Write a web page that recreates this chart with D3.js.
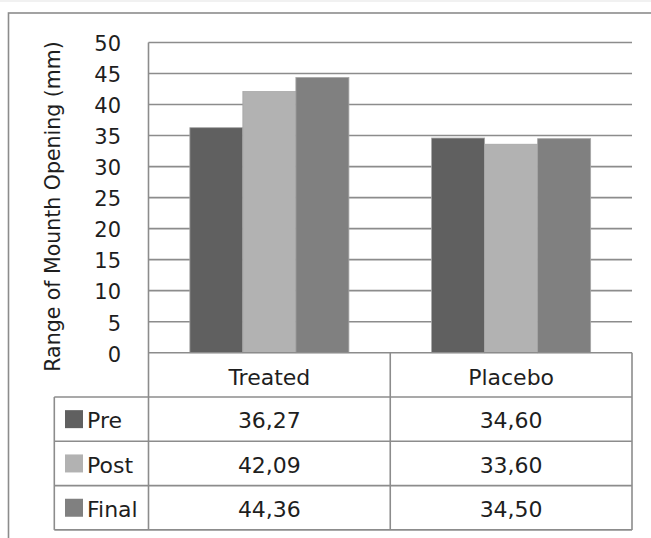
<!DOCTYPE html>
<html>
<head>
<meta charset="utf-8">
<script src="https://cdn.jsdelivr.net/npm/d3@7"></script>
<style>
  html, body { margin: 0; padding: 0; background: #fff; }
  svg { display: block; font-family: "DejaVu Sans", Verdana, sans-serif; }
</style>
</head>
<body>
<svg id="chart" width="651" height="538"></svg>
<script>
// Groups along the x axis and the three measurement series
const categories = ["Treated", "Placebo"];
const seriesNames = ["Pre", "Post", "Final"];
const preValues = [36.27, 34.60];
const postValues = [42.09, 33.60];
const finalValues = [44.36, 34.50];
const tableLabels = [["36,27", "34,60"], ["42,09", "33,60"], ["44,36", "34,50"]];
const yTicks = [0, 5, 10, 15, 20, 25, 30, 35, 40, 45, 50];
const yTitle = "Range of Mounth Opening (mm)";

const seriesValues = [preValues, postValues, finalValues];
const colors = { Pre: "#606060", Post: "#b2b2b2", Final: "#808080" };
const lineColor = "#8c8c8c";
const textColor = "#1e1e1e";

const svg = d3.select("#chart");

// Outer chart frame
svg.append("rect").attr("x", 0).attr("y", 0).attr("width", 651).attr("height", 2).attr("fill", "#f1f1f1");
svg.append("rect")
  .attr("x", 8.5).attr("y", 13).attr("width", 700).attr("height", 600)
  .attr("fill", "none").attr("stroke", lineColor).attr("stroke-width", 1.6);

const plotLeft = 148.5, plotRight = 632, plotTop = 42.5, plotBottom = 352.7;

const y = d3.scaleLinear().domain([0, 50]).range([plotBottom, plotTop]);
const x0 = d3.scaleBand().domain(categories).range([plotLeft, plotRight]);
const x1 = d3.scaleBand().domain(seriesNames).range([0, x0.bandwidth()])
  .paddingInner(0).paddingOuter(0.78);

// Horizontal gridlines
svg.append("g").selectAll("line").data(yTicks.filter(t => t > 0)).join("line")
  .attr("x1", plotLeft).attr("x2", plotRight)
  .attr("y1", d => y(d)).attr("y2", d => y(d))
  .attr("stroke", lineColor).attr("stroke-width", 1.6);

// Bars
const groups = svg.append("g").selectAll("g").data(categories).join("g")
  .attr("transform", d => `translate(${x0(d)},0)`);
groups.selectAll("rect")
  .data((c, ci) => seriesNames.map((s, si) => ({ s, v: seriesValues[si][ci] })))
  .join("rect")
  .attr("x", d => x1(d.s))
  .attr("y", d => y(d.v))
  .attr("width", x1.bandwidth())
  .attr("height", d => y(0) - y(d.v))
  .attr("fill", d => colors[d.s])
  .attr("stroke", "#a6a6a6").attr("stroke-width", 0.8);

// Y axis tick labels
svg.append("g").selectAll("text").data(yTicks).join("text")
  .attr("x", 121).attr("y", d => y(d)).attr("dy", "0.42em")
  .attr("text-anchor", "end").attr("font-size", 21).attr("fill", textColor)
  .text(d => d);

// Y axis title
svg.append("text")
  .attr("transform", "translate(60,206.5) rotate(-90)")
  .attr("text-anchor", "middle").attr("font-size", 20.5).attr("fill", textColor)
  .text(yTitle);

// Data table below the plot
const rowH = 44.3;
const rowTop = i => plotBottom + i * rowH;          // i = 0 header, 1..3 series rows
const tableBottom = rowTop(4);
const legendLeft = 54.3;
const t = svg.append("g").attr("stroke", lineColor).attr("stroke-width", 1.6);

// Axis line / top edge of the header row
t.append("line").attr("x1", plotLeft).attr("x2", plotRight).attr("y1", plotBottom).attr("y2", plotBottom);
// Row separators
t.selectAll("line.row").data([1, 2, 3, 4]).join("line").attr("class", "row")
  .attr("x1", legendLeft).attr("x2", plotRight)
  .attr("y1", d => rowTop(d)).attr("y2", d => rowTop(d));
// Vertical lines
t.append("line").attr("x1", plotLeft).attr("x2", plotLeft).attr("y1", plotTop).attr("y2", tableBottom);
t.selectAll("line.col").data(categories).join("line").attr("class", "col")
  .attr("x1", d => x0(d) + x0.bandwidth()).attr("x2", d => x0(d) + x0.bandwidth())
  .attr("y1", plotBottom).attr("y2", tableBottom);
t.append("line").attr("x1", legendLeft).attr("x2", legendLeft).attr("y1", rowTop(1)).attr("y2", tableBottom);

// Header: category names
svg.append("g").selectAll("text").data(categories).join("text")
  .attr("x", d => x0(d) + x0.bandwidth() / 2)
  .attr("y", (plotBottom + rowTop(1)) / 2).attr("dy", "0.45em")
  .attr("text-anchor", "middle").attr("font-size", 22).attr("fill", textColor)
  .text(d => d);

// Series rows: legend key, name and values
seriesNames.forEach((s, si) => {
  const cy = (rowTop(si + 1) + rowTop(si + 2)) / 2;
  svg.append("rect").attr("x", 65).attr("y", cy - 9).attr("width", 18).attr("height", 18)
    .attr("fill", colors[s]);
  svg.append("text").attr("x", 87).attr("y", cy).attr("dy", "0.42em")
    .attr("font-size", 22).attr("fill", textColor).text(s);
  svg.append("g").selectAll("text").data(categories).join("text")
    .attr("x", d => x0(d) + x0.bandwidth() / 2)
    .attr("y", cy).attr("dy", "0.42em")
    .attr("text-anchor", "middle").attr("font-size", 22).attr("fill", textColor)
    .text((d, ci) => tableLabels[si][ci]);
});
</script>
</body>
</html>
